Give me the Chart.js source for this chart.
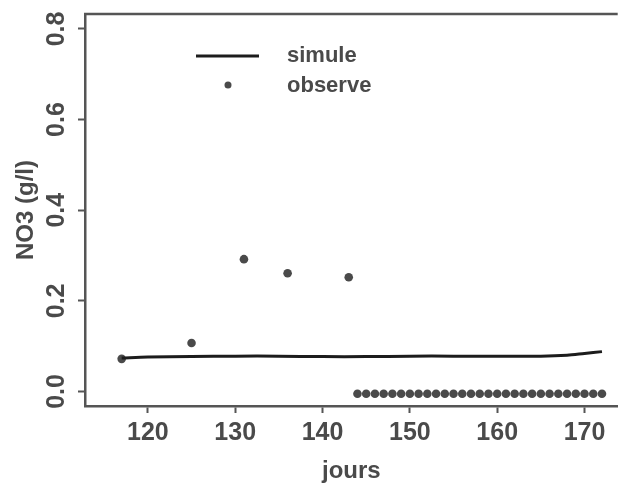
<!DOCTYPE html>
<html>
<head>
<meta charset="utf-8">
<script src="https://cdn.jsdelivr.net/npm/chart.js@4/dist/chart.umd.min.js"></script>
<style>
  body { margin: 0; background: #fff; }
</style>
</head>
<body>
<canvas id="no3Chart" width="622" height="486"></canvas>
<script>
// observed NO3 (g/l) per day
const obsDays = [117, 125, 131, 136, 143,
  144, 145, 146, 147, 148, 149, 150, 151, 152, 153, 154, 155, 156, 157, 158,
  159, 160, 161, 162, 163, 164, 165, 166, 167, 168, 169, 170, 171, 172];
const obsValues = [0.072, 0.107, 0.292, 0.261, 0.252,
  -0.005, -0.005, -0.005, -0.005, -0.005, -0.005, -0.005, -0.005, -0.005, -0.005,
  -0.005, -0.005, -0.005, -0.005, -0.005, -0.005, -0.005, -0.005, -0.005, -0.005,
  -0.005, -0.005, -0.005, -0.005, -0.005, -0.005, -0.005, -0.005, -0.005];

// simulated NO3 (g/l)
const simDays = [117, 120, 125, 130, 135, 140, 145, 150, 155, 160, 165, 168, 170, 172];
const simValues = [0.074, 0.076, 0.077, 0.078, 0.078, 0.077, 0.077, 0.078, 0.078, 0.078, 0.078, 0.080, 0.084, 0.088];

const xTicks = [120, 130, 140, 150, 160, 170];
const yTicks = [0, 0.2, 0.4, 0.6, 0.8];

const FONT = "'Liberation Sans', Arial, Helvetica, sans-serif";
const INK = "#4a4a4a";

const toXY = (xs, ys) => xs.map((x, i) => ({ x: x, y: ys[i] }));

// top border + rotated y tick labels + legend
const decorations = {
  id: "decorations",
  afterDraw(chart) {
    const ctx = chart.ctx;
    const area = chart.chartArea;
    const yScale = chart.scales.y;

    ctx.save();
    ctx.strokeStyle = "#555";
    ctx.lineWidth = 2.5;
    ctx.beginPath();
    ctx.moveTo(area.left - 1, area.top);
    ctx.lineTo(area.right, area.top);
    ctx.stroke();

    ctx.fillStyle = INK;
    ctx.font = "bold 25px " + FONT;
    ctx.textAlign = "center";
    ctx.textBaseline = "middle";
    yScale.ticks.forEach(function (t) {
      const py = yScale.getPixelForValue(t.value);
      ctx.save();
      ctx.translate(57, py);
      ctx.rotate(-Math.PI / 2);
      ctx.fillText(t.value.toFixed(1), 0, 0);
      ctx.restore();
    });

    // legend
    const sim = chart.data.datasets[0];
    const obs = chart.data.datasets[1];
    ctx.strokeStyle = sim.borderColor;
    ctx.lineWidth = sim.borderWidth;
    ctx.beginPath();
    ctx.moveTo(196, 56);
    ctx.lineTo(259, 56);
    ctx.stroke();
    ctx.fillStyle = obs.backgroundColor;
    ctx.beginPath();
    ctx.arc(228, 85, 3.5, 0, Math.PI * 2);
    ctx.fill();
    ctx.fillStyle = INK;
    ctx.font = "bold 22px " + FONT;
    ctx.textAlign = "left";
    ctx.fillText(sim.label, 287, 56);
    ctx.fillText(obs.label, 287, 86);
    ctx.restore();
  },
};

const ctx = document.getElementById("no3Chart").getContext("2d");
const chart = new Chart(ctx, {
  type: "scatter",
  data: {
    datasets: [
      {
        label: "simule",
        data: toXY(simDays, simValues),
        showLine: true,
        borderColor: "#1c1c1c",
        borderWidth: 3,
        pointRadius: 0,
        tension: 0.3,
      },
      {
        label: "observe",
        data: toXY(obsDays, obsValues),
        showLine: false,
        backgroundColor: "#4a4a4a",
        borderWidth: 0,
        pointRadius: 4.3,
      },
    ],
  },
  options: {
    responsive: false,
    animation: false,
    layout: { padding: { left: 0, right: 2, top: 14, bottom: 0 } },
    plugins: {
      legend: { display: false },
      tooltip: { enabled: false },
    },
    scales: {
      x: {
        type: "linear",
        min: 112.8,
        max: 173.8,
        afterBuildTicks: (s) => { s.ticks = xTicks.map((v) => ({ value: v })); },
        afterFit: (s) => { s.height = 80; },
        grid: { drawOnChartArea: false, drawTicks: true, tickLength: 7, tickWidth: 2, tickColor: "#555" },
        border: { display: true, color: "#555", width: 2.5 },
        ticks: { color: INK, font: { family: FONT, size: 25, weight: "bold" }, padding: 5, maxRotation: 0 },
        title: { display: true, text: "jours", color: INK, font: { family: FONT, size: 24, weight: "bold" }, padding: { top: 0, bottom: 0 } },
      },
      y: {
        type: "linear",
        min: -0.032,
        max: 0.833,
        afterBuildTicks: (s) => { s.ticks = yTicks.map((v) => ({ value: v })); },
        afterFit: (s) => { s.width = 85; },
        grid: { drawOnChartArea: false, drawTicks: true, tickLength: 7, tickWidth: 2, tickColor: "#555" },
        border: { display: true, color: "#555", width: 2.5 },
        ticks: { display: false },
        title: { display: true, text: "NO3 (g/l)", color: INK, font: { family: FONT, size: 24, weight: "bold" }, padding: { top: 12, bottom: 0 } },
      },
    },
  },
  plugins: [decorations],
});
</script>
</body>
</html>
